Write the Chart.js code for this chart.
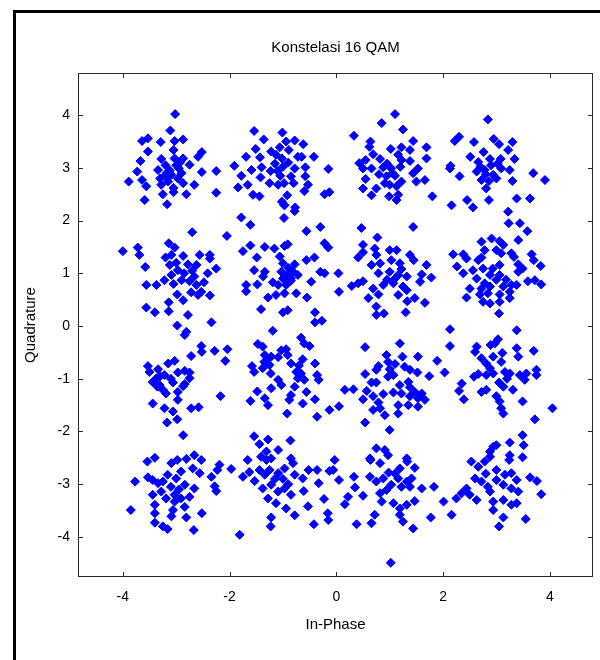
<!DOCTYPE html>
<html>
<head>
<meta charset="utf-8">
<script src="https://cdn.jsdelivr.net/npm/chart.js@4"></script>
<style>
  html, body { margin: 0; padding: 0; background: #fff; }
</style>
</head>
<body>
<canvas id="qamChart" width="600" height="660"></canvas>
<script>
const titleText = 'Konstelasi 16 QAM';
const xLabel = 'In-Phase';
const yLabel = 'Quadrature';
const xTicks = [-4, -2, 0, 2, 4];
const yTicks = [-4, -3, -2, -1, 0, 1, 2, 3, 4];

// received symbols, one row of the constellation per array
const row3 = [
  // (-3, 3)
  [-3.02,4.02],[-3.11,3.71],[-3.64,3.51],[-3.53,3.56],[-3.29,3.49],[-3.03,3.51],[-2.87,3.54],[-3.53,3.31],
  [-3.67,3.13],[-3.28,3.17],[-3.05,3.34],[-3.03,3.18],[-2.87,3.18],[-2.52,3.30],[-2.59,3.21],[-2.75,3.06],
  [-3.73,2.93],[-3.34,2.96],[-3.22,2.84],[-3.09,2.87],[-3.15,2.74],[-2.95,2.99],[-2.97,2.80],[-2.52,2.92],
  [-3.89,2.74],[-3.64,2.77],[-3.56,2.65],[-3.28,2.68],[-2.87,2.71],[-2.66,2.68],[-2.81,2.50],[-3.25,2.50],
  [-3.05,2.54],[-3.59,2.39],[-3.17,2.31],[-2.25,2.94],[-2.25,2.53],[-3.12,2.95],[-3.00,3.05],[-3.20,3.05],
  [-2.90,2.90],[-3.30,2.80],[-3.05,2.62],[-3.18,2.90],[-2.93,3.10],
  // (-1, 3)
  [-1.54,3.70],[-1.01,3.67],[-1.36,3.54],[-0.94,3.50],[-0.78,3.52],[-0.62,3.45],[-1.06,3.39],[-0.89,3.34],
  [-1.51,3.36],[-1.22,3.31],[-1.13,3.25],[-1.02,3.18],[-1.69,3.21],[-1.43,3.20],[-0.72,3.21],[-0.65,3.21],
  [-0.42,3.21],[-1.91,3.04],[-1.59,2.96],[-1.78,2.85],[-1.40,3.01],[-1.23,2.94],[-1.10,2.94],[-1.00,3.02],
  [-0.78,2.99],[-0.58,3.01],[-1.42,2.82],[-1.25,2.71],[-1.09,2.68],[-0.98,2.71],[-0.85,2.84],[-0.80,2.71],
  [-0.58,2.84],[-0.53,2.68],[-0.60,2.56],[-0.15,2.98],[-0.22,2.50],[-0.13,2.54],[-1.84,2.63],[-1.66,2.68],
  [-1.56,2.49],[-1.44,2.46],[-1.02,2.36],[-0.92,2.48],[-0.98,2.30],[-0.77,2.25],[-0.97,2.29],[-0.78,2.18],
  [-0.98,2.05],[-1.78,2.06],[-1.61,1.92],[-1.15,3.08],[-0.90,3.10],[-1.05,2.85],
  // (1, 3)
  [1.10,4.02],[0.85,3.85],[1.25,3.73],[0.33,3.61],[0.64,3.50],[0.62,3.40],[1.44,3.51],[1.02,3.36],
  [1.22,3.39],[1.38,3.34],[1.69,3.39],[1.69,3.18],[0.69,3.26],[0.55,3.15],[0.43,3.09],[0.82,3.17],
  [1.16,3.25],[1.22,3.15],[1.38,3.13],[0.50,2.99],[0.66,2.99],[0.88,3.01],[1.03,2.99],[1.53,2.99],
  [1.44,2.90],[0.94,2.84],[1.10,2.85],[1.22,2.74],[1.00,2.68],[1.13,2.65],[0.91,2.71],[0.55,2.79],
  [0.75,2.61],[0.50,2.61],[0.66,2.48],[1.50,2.74],[1.66,2.77],[0.99,2.46],[1.13,2.39],[1.16,2.49],
  [1.80,2.46],[1.05,2.90],[0.95,3.08],[1.20,3.02],[0.80,2.88],
  // (3, 3)
  [2.84,3.92],[2.30,3.59],[2.22,3.51],[2.58,3.49],[2.95,3.55],[3.05,3.45],[3.30,3.49],[3.22,3.34],
  [2.51,3.21],[2.66,3.11],[2.76,3.30],[2.88,3.17],[3.08,3.17],[3.34,3.17],[2.14,3.04],[2.13,2.99],
  [2.63,2.93],[2.78,2.96],[2.94,2.87],[3.09,2.99],[3.25,2.96],[2.72,2.77],[2.86,2.75],[3.00,2.80],
  [2.81,2.61],[2.31,2.84],[3.30,2.75],[3.69,2.90],[3.91,2.77],[2.86,2.39],[2.45,2.39],[2.56,2.25],
  [2.16,2.29],[3.38,2.42],[3.63,2.42],[3.22,2.17],[2.90,3.05],[2.80,2.88],[3.02,3.08],[2.70,3.02]
];

const row1 = [
  // (-3, 1)
  [-2.70,1.78],[-2.05,1.71],[-4.00,1.42],[-3.72,1.49],[-3.69,1.35],[-3.14,1.57],[-3.03,1.49],[-3.20,1.30],
  [-3.09,1.35],[-2.87,1.33],[-2.56,1.35],[-2.37,1.35],[-2.37,1.28],[-3.58,1.12],[-3.12,1.16],[-2.97,1.06],
  [-2.78,1.17],[-2.62,1.16],[-2.25,1.09],[-2.41,1.00],[-3.56,0.78],[-3.37,0.78],[-3.22,0.87],[-3.09,0.97],
  [-2.90,0.87],[-2.66,0.94],[-2.62,0.78],[-2.48,0.83],[-2.72,0.64],[-2.59,0.59],[-2.37,0.58],[-2.53,0.65],
  [-2.98,0.60],[-2.87,0.49],[-3.14,0.45],[-3.14,0.28],[-3.56,0.35],[-3.40,0.26],[-2.78,0.21],[-2.98,0.01],
  [-2.81,-0.11],[-2.34,0.07],[-3.00,1.20],[-2.70,1.05],[-2.75,0.85],[-2.85,1.00],[-3.05,0.80],
  // (-1, 1)
  [-1.75,1.42],[-1.61,1.53],[-1.34,1.50],[-1.16,1.47],[-0.97,1.52],[-0.91,1.55],[-1.49,1.30],[-1.06,1.32],
  [-1.00,1.19],[-0.78,1.17],[-0.56,1.80],[-0.30,1.88],[-0.56,1.25],[-0.41,1.30],[-0.22,1.57],[-0.15,1.49],
  [-1.54,1.06],[-1.34,1.03],[-1.37,0.94],[-1.03,1.03],[-0.91,0.97],[-0.81,1.03],[-0.72,0.97],[-1.19,0.83],
  [-1.09,0.78],[-0.94,0.78],[-0.85,0.86],[-1.69,0.78],[-1.69,0.66],[-1.48,0.79],[-0.47,0.84],[-0.30,1.03],
  [-0.22,1.00],[-1.28,0.54],[-1.13,0.59],[-0.97,0.62],[-0.75,0.62],[-0.55,0.54],[-1.41,0.32],[-1.00,0.26],
  [-0.91,0.30],[-0.40,0.26],[-0.40,0.07],[-0.27,0.10],[-1.19,-0.09],[-0.90,1.10],[-0.85,0.90],[-1.00,0.90],
  // (1, 1)
  [0.47,1.86],[1.44,1.88],[0.77,1.68],[0.50,1.54],[0.50,1.40],[0.41,1.30],[0.72,1.47],[0.75,1.35],
  [1.00,1.44],[1.13,1.44],[1.38,1.35],[1.45,1.25],[1.69,1.16],[0.66,1.16],[0.82,1.19],[1.03,1.25],
  [1.19,1.19],[0.79,1.00],[1.00,1.03],[1.16,0.97],[1.32,0.94],[1.60,0.98],[1.78,0.92],[1.57,0.84],
  [0.04,1.00],[0.05,0.65],[0.29,0.76],[0.41,0.81],[0.50,0.85],[0.69,0.71],[0.88,0.78],[1.07,0.81],
  [1.25,0.75],[0.79,0.60],[1.16,0.59],[1.32,0.68],[0.60,0.53],[1.33,0.47],[1.47,0.53],[1.66,0.44],
  [0.75,0.37],[0.75,0.21],[0.89,0.24],[1.30,0.26],[2.13,-0.06],[1.10,0.90],[0.95,0.88],[1.22,1.08],
  // (3, 1)
  [3.23,1.95],[3.44,1.95],[3.58,1.80],
  [2.72,1.60],[2.91,1.66],[3.06,1.61],[3.13,1.54],[2.78,1.44],[3.00,1.44],[3.09,1.38],[2.19,1.36],
  [2.38,1.36],[2.44,1.28],[2.72,1.30],[2.66,1.25],[3.41,1.63],[3.28,1.38],[3.33,1.31],[3.66,1.36],
  [3.70,1.25],[3.83,1.14],[2.26,1.13],[2.38,1.00],[2.56,1.06],[2.75,1.09],[2.93,1.09],[3.06,1.16],
  [2.88,0.97],[3.06,0.97],[3.41,1.17],[3.49,1.09],[3.41,1.03],[2.63,0.90],[2.78,0.81],[3.59,0.85],
  [3.72,0.87],[3.84,0.79],[2.50,0.71],[2.72,0.71],[2.88,0.75],[3.13,0.75],[3.28,0.78],[3.38,0.78],
  [2.69,0.60],[2.84,0.62],[3.06,0.60],[3.25,0.65],[2.44,0.54],[2.75,0.46],[2.88,0.43],[3.06,0.46],
  [3.25,0.53],[3.05,0.24],[3.38,-0.08],[3.00,0.88],[3.18,0.88]
];

const rowM1 = [
  // (-3, -1)
  [-2.84,-0.17],[-2.53,-0.38],[-2.52,-0.49],[-2.72,-0.57],[-2.28,-0.47],[-2.04,-0.44],[-2.08,-0.66],
  [-3.53,-0.76],[-3.50,-0.87],[-3.34,-0.82],[-3.37,-0.99],[-3.15,-0.71],[-3.03,-0.66],[-3.22,-0.93],
  [-3.06,-1.07],[-2.97,-0.88],[-2.84,-0.85],[-2.75,-0.88],[-2.75,-0.99],[-3.44,-1.06],[-3.31,-1.12],
  [-3.25,-1.21],[-3.19,-1.28],[-2.97,-1.25],[-2.87,-1.14],[-2.84,-1.10],[-2.17,-1.33],[-3.44,-1.47],
  [-2.97,-1.40],[-3.22,-1.56],[-3.06,-1.62],[-2.72,-1.56],[-2.58,-1.54],[-3.17,-1.83],[-2.98,-1.77],
  [-2.87,-2.07],[-3.30,-0.95],[-3.10,-1.00],[-3.35,-1.15],
  // (-1, -1)
  [-1.47,-0.34],[-1.38,-0.39],[-0.66,-0.22],[-0.60,-0.33],[-0.50,-0.38],[-1.03,-0.46],[-0.94,-0.44],
  [-0.91,-0.55],[-1.34,-0.55],[-1.22,-0.58],[-1.09,-0.59],[-0.85,-0.71],[-0.63,-0.63],[-0.40,-0.71],
  [-1.58,-0.76],[-1.54,-0.87],[-1.38,-0.80],[-1.25,-0.74],[-1.23,-0.90],[-0.75,-0.87],[-0.66,-0.90],
  [-0.72,-0.99],[-0.60,-1.02],[-0.36,-0.93],[-0.33,-1.02],[-1.09,-1.02],[-1.03,-1.12],[-1.22,-1.18],
  [-0.78,-1.15],[-0.56,-1.25],[-1.48,-1.24],[-1.61,-1.42],[-1.34,-1.37],[-1.28,-1.50],[-0.88,-1.40],
  [-0.85,-1.31],[-0.63,-1.47],[-0.40,-1.39],[-0.92,-1.66],[-0.36,-1.72],[-0.13,-1.59],[-1.30,-0.65],
  [-0.70,-0.75],[-1.35,-0.68],
  // (1, -1)
  [0.05,-1.52],[0.54,-0.40],[1.19,-0.33],[0.94,-0.55],[0.97,-0.68],[1.24,-0.58],[1.53,-0.58],[1.89,-0.66],
  [0.79,-0.76],[0.75,-0.83],[1.00,-0.82],[1.07,-0.93],[0.97,-0.96],[1.28,-0.77],[1.38,-0.83],[1.52,-0.88],
  [0.54,-0.91],[2.03,-0.88],[1.74,-0.95],[0.66,-1.07],[0.75,-1.07],[0.16,-1.21],[0.32,-1.20],[0.57,-1.23],
  [1.19,-1.12],[1.35,-1.06],[1.38,-1.16],[1.07,-1.26],[1.22,-1.28],[0.88,-1.29],[1.47,-1.25],[1.60,-1.28],
  [1.53,-1.37],[1.66,-1.40],[1.38,-1.33],[0.69,-1.33],[0.50,-1.39],[0.79,-1.45],[0.69,-1.59],[0.82,-1.56],
  [1.16,-1.50],[1.35,-1.50],[1.53,-1.53],[0.91,-1.69],[1.16,-1.66],[0.54,-1.83],[1.00,-1.97],[1.10,-0.72],
  // (3, -1)
  [2.13,-0.38],[2.63,-0.39],[2.60,-0.49],[2.89,-0.36],[3.03,-0.25],[2.97,-0.33],[3.11,-0.51],[3.38,-0.42],
  [3.41,-0.58],[3.70,-0.47],[2.72,-0.61],[2.94,-0.58],[2.81,-0.71],[3.09,-0.68],[2.58,-0.96],[2.66,-0.91],
  [2.81,-0.93],[2.94,-0.90],[3.16,-0.87],[3.25,-0.90],[3.44,-0.93],[3.56,-0.90],[3.75,-0.83],[3.75,-0.93],
  [3.05,-1.07],[3.13,-1.15],[3.31,-1.21],[3.53,-1.02],[2.35,-1.09],[2.30,-1.23],[2.72,-1.25],[2.81,-1.21],
  [3.00,-1.33],[3.06,-1.43],[2.39,-1.39],[3.49,-1.43],[3.09,-1.56],[3.13,-1.66],[4.05,-1.56],[3.72,-1.77],
  [3.20,-1.00],[2.88,-0.80]
];

const rowM3 = [
  // (-3, -3)
  [-3.54,-2.57],[-3.40,-2.50],[-3.09,-2.60],[-2.98,-2.54],[-2.81,-2.52],[-2.66,-2.45],[-2.53,-2.54],
  [-2.69,-2.70],[-2.56,-2.79],[-3.77,-2.95],[-3.53,-2.87],[-3.44,-2.92],[-3.34,-2.98],[-3.16,-2.82],
  [-3.00,-2.89],[-2.91,-2.76],[-2.84,-3.01],[-2.66,-3.08],[-2.34,-2.86],[-2.23,-2.73],[-2.19,-2.63],
  [-2.28,-3.04],[-2.25,-3.13],[-3.44,-3.20],[-3.28,-3.14],[-3.19,-3.27],[-3.03,-3.20],[-2.91,-3.27],
  [-2.75,-3.24],[-3.40,-3.39],[-3.03,-3.33],[-3.06,-3.49],[-2.84,-3.43],[-3.85,-3.49],[-3.40,-3.55],
  [-3.09,-3.61],[-2.81,-3.63],[-2.52,-3.55],[-3.40,-3.73],[-3.25,-3.80],[-3.16,-3.85],[-2.67,-3.87],
  [-1.97,-2.71],[-3.10,-3.05],[-2.95,-3.10],[-3.25,-2.95],
  // (-1, -3)
  [-1.54,-2.09],[-1.44,-2.24],[-1.28,-2.15],[-0.86,-2.17],[-1.09,-2.35],[-1.31,-2.38],[-1.66,-2.54],
  [-1.41,-2.48],[-1.31,-2.54],[-1.22,-2.51],[-0.85,-2.51],[-0.81,-2.60],[-1.75,-2.86],[-1.63,-2.77],
  [-1.53,-2.94],[-1.44,-2.73],[-1.34,-2.82],[-1.25,-2.73],[-1.09,-2.79],[-0.97,-2.70],[-0.78,-2.82],
  [-1.38,-3.08],[-1.22,-3.01],[-1.09,-3.14],[-0.97,-3.08],[-0.85,-3.20],[-0.61,-3.13],[-0.63,-2.89],
  [-0.52,-2.73],[-0.36,-2.73],[-0.13,-2.75],[-0.33,-2.98],[-1.28,-3.27],[-1.13,-3.36],[-0.94,-3.46],
  [-0.78,-3.59],[-0.53,-3.42],[-0.23,-3.28],[-1.22,-3.63],[-1.23,-3.80],[-0.42,-3.76],[-0.16,-3.55],
  [-0.15,-3.68],[-1.81,-3.96],[-1.00,-2.90],[-1.15,-2.90],[-0.90,-3.00],
  // (1, -3)
  [0.75,-2.32],[0.91,-2.35],[0.97,-2.45],[0.63,-2.51],[1.32,-2.51],[-0.03,-2.54],[-0.06,-2.73],[0.05,-2.92],
  [0.64,-2.54],[0.82,-2.60],[1.33,-2.57],[1.47,-2.69],[1.19,-2.70],[0.33,-2.86],[0.35,-3.06],[0.50,-3.22],
  [0.22,-3.24],[0.16,-3.38],[0.63,-2.86],[0.75,-2.95],[0.88,-2.89],[1.03,-3.01],[0.94,-3.11],[1.16,-2.89],
  [1.32,-2.95],[1.41,-2.89],[1.22,-3.05],[1.38,-3.05],[1.60,-3.08],[1.83,-3.05],[0.82,-3.17],[0.85,-3.33],
  [1.07,-3.36],[1.19,-3.46],[1.32,-3.39],[1.47,-3.32],[0.72,-3.58],[0.66,-3.74],[1.19,-3.58],[1.25,-3.71],
  [1.44,-3.84],[0.38,-3.76],[1.77,-3.63],[1.02,-4.49],[1.10,-2.80],[0.98,-2.78],
  // (3, -3)
  [2.94,-2.29],[3.00,-2.26],[2.88,-2.38],[3.25,-2.21],[3.49,-2.07],[3.51,-2.26],[3.25,-2.45],[3.49,-2.49],
  [2.01,-3.33],[2.16,-3.58],[2.25,-3.27],[2.35,-3.17],[2.44,-3.08],[2.53,-2.57],[2.66,-2.67],[2.78,-2.57],
  [2.88,-2.48],[2.60,-2.89],[2.72,-2.95],[2.84,-3.05],[2.50,-3.20],[2.63,-3.30],[2.88,-3.14],[3.00,-2.73],
  [3.00,-2.92],[3.16,-2.82],[3.28,-2.79],[3.38,-2.92],[3.24,-2.54],[3.13,-3.01],[3.28,-3.08],[3.41,-3.14],
  [2.94,-3.33],[2.94,-3.49],[3.13,-3.30],[3.28,-3.39],[3.38,-3.36],[3.63,-2.87],[3.76,-2.94],[3.84,-3.19],
  [3.13,-3.63],[3.55,-3.66],[3.05,-3.80],[2.80,-2.80]
];

const symbols = row3.concat(row1, rowM1, rowM3).map(p => ({ x: p[0], y: p[1] }));

const fontFamily = '"Liberation Sans", Arial, sans-serif';

const matlabFrame = {
    id: 'matlabFrame',
    beforeDraw(chart) {
        const c = chart.ctx;
        c.save();
        c.fillStyle = '#000';
        // outer figure border
        c.fillRect(13, 10, 600 - 13, 3);
        c.fillRect(13, 10, 3, 660 - 10);
        c.restore();
    },
    afterDraw(chart) {
        const c = chart.ctx;
        const a = chart.chartArea;
        const xs = chart.scales.x, ys = chart.scales.y;
        c.save();
        c.strokeStyle = '#2b2b2b';
        c.lineWidth = 1;
        c.strokeRect(a.left + 0.5, a.top + 0.5, a.right - a.left - 1, a.bottom - a.top - 1);
        c.beginPath();
        xTicks.forEach(v => {
            const px = Math.round(xs.getPixelForValue(v)) + 0.5;
            c.moveTo(px, a.bottom); c.lineTo(px, a.bottom - 5);
            c.moveTo(px, a.top); c.lineTo(px, a.top + 5);
        });
        yTicks.forEach(v => {
            const py = Math.round(ys.getPixelForValue(v)) + 0.5;
            c.moveTo(a.left, py); c.lineTo(a.left + 5, py);
            c.moveTo(a.right, py); c.lineTo(a.right - 5, py);
        });
        c.stroke();

        c.fillStyle = '#000';
        c.font = '15px ' + fontFamily;
        c.textAlign = 'center';
        c.textBaseline = 'middle';
        c.fillText(titleText, (a.left + a.right) / 2, 48);
        c.fillText(xLabel, (a.left + a.right) / 2, 625);
        c.translate(31, (a.top + a.bottom) / 2);
        c.rotate(-Math.PI / 2);
        c.fillText(yLabel, 0, 0);
        c.restore();
    }
};

new Chart(document.getElementById('qamChart'), {
    type: 'scatter',
    data: {
        datasets: [{
            label: 'Simbol',
            data: symbols,
            pointStyle: 'rectRot',
            pointRadius: 4.5,
            borderWidth: 1,
            backgroundColor: '#0000ff',
            borderColor: '#0000ff'
        }]
    },
    options: {
        responsive: false,
        animation: false,
        devicePixelRatio: 1,
        layout: { padding: { top: 73, right: 7, left: 0, bottom: 0 } },
        plugins: {
            legend: { display: false },
            title: { display: false },
            tooltip: { enabled: false }
        },
        scales: {
            x: {
                type: 'linear',
                min: -4.84,
                max: 4.81,
                afterBuildTicks: s => { s.ticks = xTicks.map(v => ({ value: v })); },
                afterFit: s => { s.height = 83; },
                grid: { display: false, drawTicks: false },
                border: { display: false },
                ticks: { color: '#000', padding: 12, font: { family: fontFamily, size: 14 } }
            },
            y: {
                type: 'linear',
                min: -4.76,
                max: 4.80,
                afterBuildTicks: s => { s.ticks = yTicks.map(v => ({ value: v })); },
                afterFit: s => { s.width = 78; },
                grid: { display: false, drawTicks: false },
                border: { display: false },
                ticks: { color: '#000', padding: 8, font: { family: fontFamily, size: 14 } }
            }
        }
    },
    plugins: [matlabFrame]
});
</script>
</body>
</html>
